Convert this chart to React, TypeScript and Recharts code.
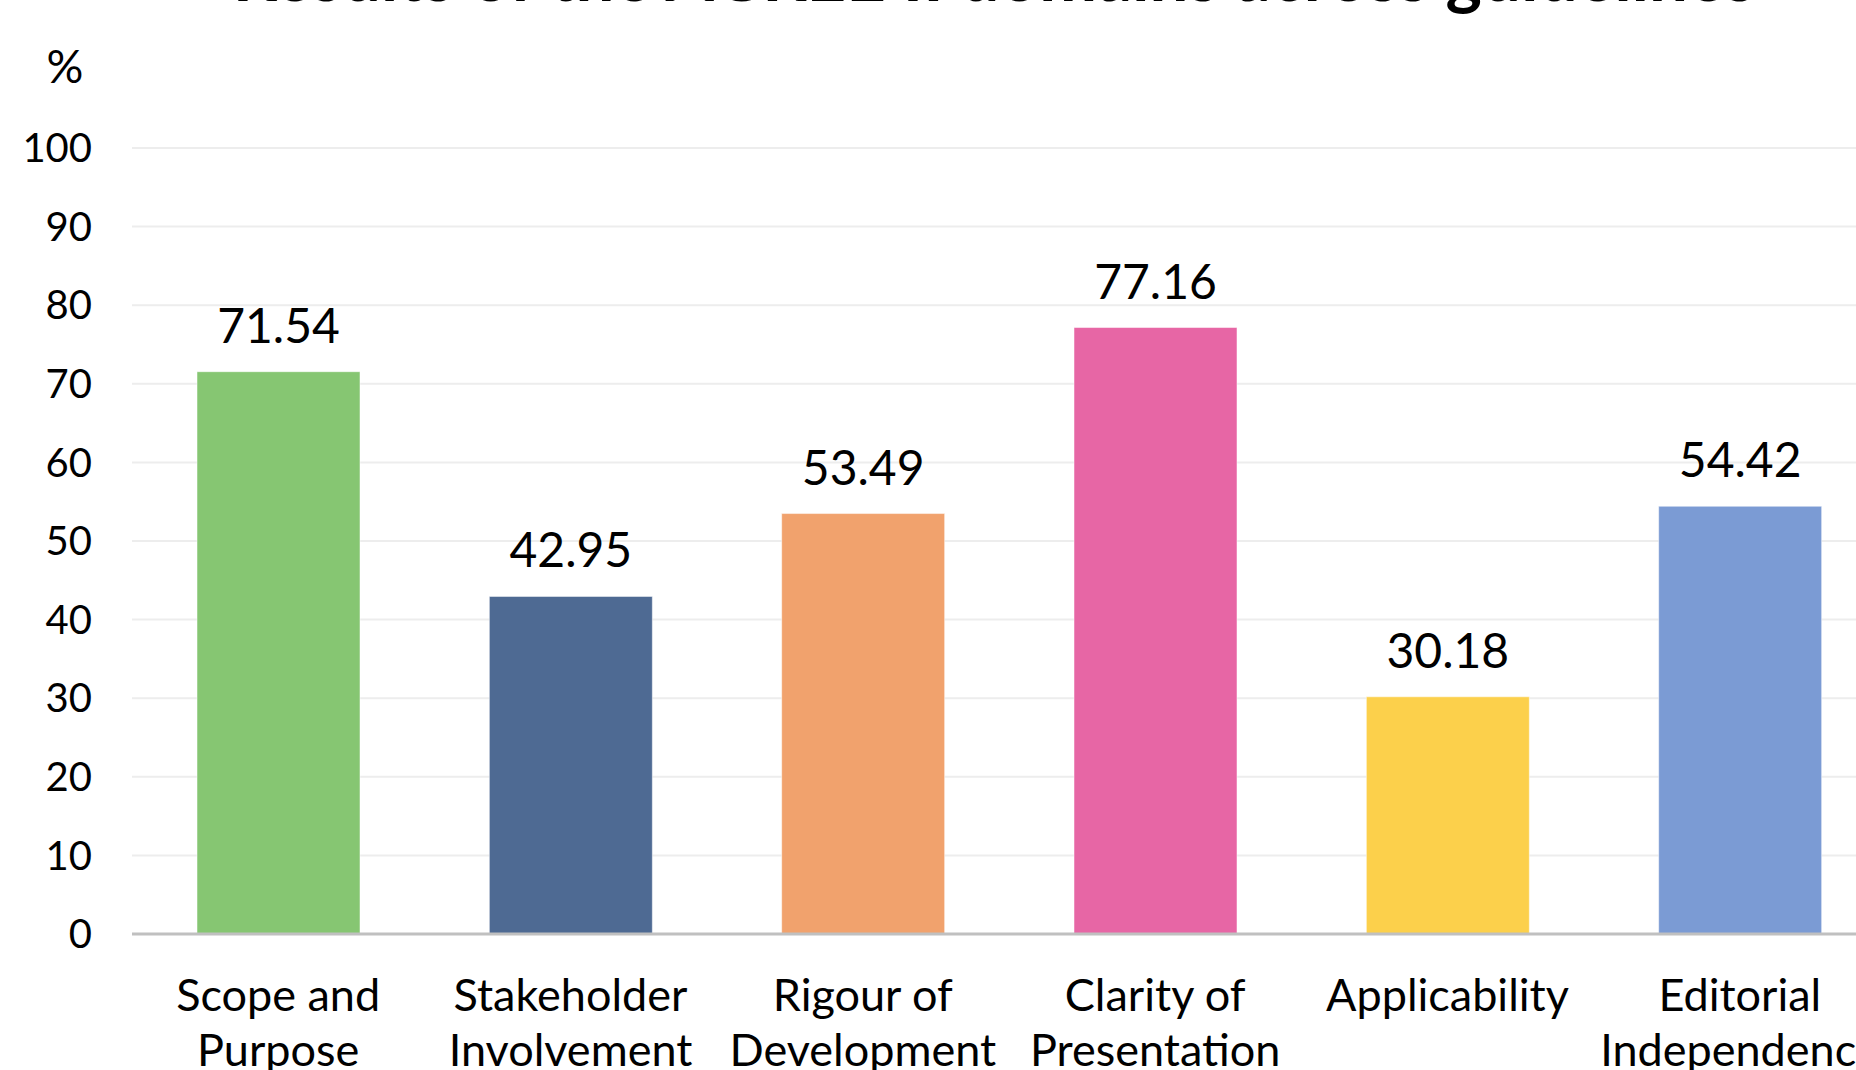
import React from "react";
import { BarChart, Bar, Cell, XAxis, YAxis, CartesianGrid, LabelList } from "recharts";

const domains = [
  "Scope and Purpose",
  "Stakeholder Involvement",
  "Rigour of Development",
  "Clarity of Presentation",
  "Applicability",
  "Editorial Independence",
];
const scores = [71.54, 42.95, 53.49, 77.16, 30.18, 54.42];
const barColors = ["#86c672", "#4e6a93", "#f1a26d", "#e766a5", "#fcd04b", "#7b9bd4"];
const yTicks = [0, 10, 20, 30, 40, 50, 60, 70, 80, 90, 100];

const FONT = "Lato, 'Noto Sans', sans-serif";

const data = domains.map((d, i) => ({ domain: d, score: scores[i] }));

// split the category name at its last space into two lines
function CategoryTick(props: any) {
  const { x, y, payload } = props;
  const label: string = payload.value;
  const cut = label.lastIndexOf(" ");
  const lines = cut > 0 ? [label.slice(0, cut), label.slice(cut + 1)] : [label];
  return (
    <text x={x} y={y} textAnchor="middle" fontFamily={FONT} fontSize={45} fill="#000">
      {lines.map((l, i) => (
        <tspan key={i} x={x} y={y + 77 + i * 55}>
          {l}
        </tspan>
      ))}
    </text>
  );
}

export default function App() {
  return (
    <div
      style={{
        position: "absolute",
        left: 0,
        top: 0,
        width: 1856,
        height: 1070,
        overflow: "hidden",
        background: "#fff",
      }}
    >
      <BarChart
        width={1886}
        height={1070}
        data={data}
        margin={{ top: 148, right: 0, left: 0, bottom: 0 }}
      >
        <CartesianGrid vertical={false} stroke="#ededed" strokeWidth={2} />
        <XAxis
          dataKey="domain"
          height={136}
          interval={0}
          tickLine={false}
          tickSize={0}
          tickMargin={0}
          axisLine={{ stroke: "#c0c0c0", strokeWidth: 3 }}
          tick={<CategoryTick />}
        />
        <YAxis
          width={132}
          domain={[0, 100]}
          ticks={yTicks}
          interval={0}
          axisLine={false}
          tickLine={false}
          tickSize={0}
          tickMargin={40}
          tick={{ fontFamily: FONT, fontSize: 40, fill: "#000" }}
        />
        <Bar dataKey="score" barSize={163} isAnimationActive={false} stroke="rgba(255,255,255,0.5)" strokeWidth={1}>
          {data.map((_, i) => (
            <Cell key={`c-${i}`} fill={barColors[i]} />
          ))}
          <LabelList
            dataKey="score"
            position="top"
            offset={29}
            style={{ fontFamily: FONT, fontSize: 48, fill: "#000" }}
          />
        </Bar>
      </BarChart>
      <svg
        width={1856}
        height={100}
        style={{ position: "absolute", left: 0, top: 0, pointerEvents: "none" }}
      >
        <text x={994} y={1} textAnchor="middle" fontFamily={FONT} fontWeight="bold" fontSize={69} fill="#000">
          Results of the AGREE II domains across guidelines
        </text>
        <text x={65} y={83} textAnchor="middle" fontFamily={FONT} fontSize={46} fill="#000">
          %
        </text>
      </svg>
    </div>
  );
}
